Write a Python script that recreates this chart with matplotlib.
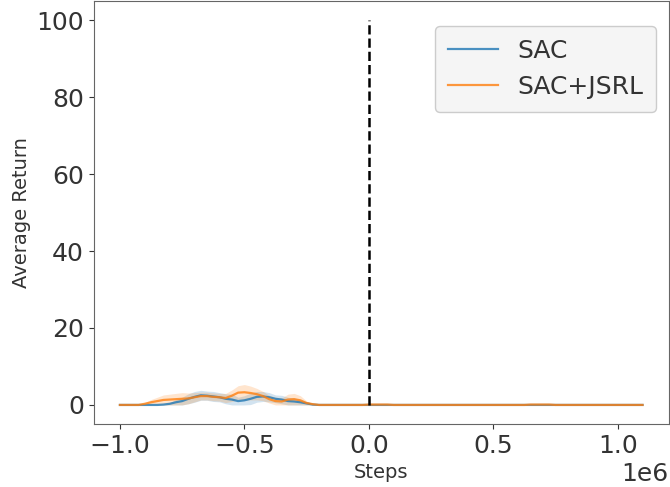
import numpy as np
import matplotlib
matplotlib.use("Agg")
import matplotlib.pyplot as plt

# steps grid (x 1e6), every 25k steps from -1.0e6 to 1.1e6
steps = np.linspace(-1.0e6, 1.1e6, 85)

sac_mean = [0, 0, 0, 0, 0, 0, 0, 0.1, 0.3, 0.7,
            1.0, 1.6, 2.1, 2.5, 2.4, 2.2, 2.0, 1.6, 1.4, 1.0,
            1.2, 1.6, 2.1, 2.2, 2.0, 1.6, 1.4, 1.0, 0.9, 0.7,
            0.4, 0.1, 0, 0, 0, 0, 0, 0, 0, 0,
            0, 0, 0, 0, 0, 0, 0, 0, 0, 0,
            0, 0, 0, 0, 0, 0, 0, 0, 0, 0,
            0, 0, 0, 0, 0, 0, 0, 0, 0, 0,
            0, 0, 0, 0, 0, 0, 0, 0, 0, 0,
            0, 0, 0, 0, 0]
sac_std = [0, 0, 0, 0, 0, 0, 0, 0.1, 0.3, 0.7,
           1.0, 1.3, 1.4, 1.3, 1.2, 1.3, 1.2, 1.3, 1.4, 1.0,
           1.2, 1.5, 1.4, 1.3, 1.2, 1.0, 1.1, 1.0, 0.9, 0.7,
           0.4, 0.1, 0, 0, 0, 0, 0, 0, 0, 0,
           0, 0, 0, 0, 0, 0, 0, 0, 0, 0,
           0, 0, 0, 0, 0, 0, 0, 0, 0, 0,
           0, 0, 0, 0, 0, 0, 0, 0, 0, 0,
           0, 0, 0, 0, 0, 0, 0, 0, 0, 0,
           0, 0, 0, 0, 0]

jsrl_mean = [0, 0, 0, 0, 0.3, 0.7, 1.0, 1.3, 1.4, 1.5,
             1.6, 1.7, 2.0, 2.3, 2.3, 2.1, 2.0, 1.8, 2.4, 3.2,
             3.3, 3.1, 2.8, 2.3, 1.5, 1.0, 0.9, 1.4, 1.5, 1.2,
             0.5, 0.2, 0, 0, 0, 0, 0, 0, 0, 0,
             0.1, 0.1, 0.1, 0.1, 0, 0, 0, 0, 0, 0,
             0, 0, 0, 0, 0, 0, 0, 0, 0, 0,
             0, 0, 0, 0, 0, 0, 0.1, 0.1, 0.1, 0.1,
             0, 0, 0, 0, 0, 0, 0, 0, 0, 0,
             0, 0, 0, 0, 0]
jsrl_std = [0, 0, 0, 0, 0.3, 0.7, 1.0, 1.3, 1.4, 1.5,
            1.6, 1.4, 1.2, 1.0, 1.0, 1.0, 1.0, 1.2, 1.5, 1.8,
            2.0, 1.8, 1.5, 1.2, 1.0, 1.0, 0.9, 1.4, 1.5, 1.2,
            0.5, 0.2, 0, 0, 0, 0, 0, 0, 0, 0,
            0.1, 0.1, 0.1, 0.1, 0, 0, 0, 0, 0, 0,
            0, 0, 0, 0, 0, 0, 0, 0, 0, 0,
            0, 0, 0, 0, 0, 0, 0.1, 0.1, 0.1, 0.1,
            0, 0, 0, 0, 0, 0, 0, 0, 0, 0,
            0, 0, 0, 0, 0]

switch_step = 0
switch_range = [0, 100]

series = [("SAC", sac_mean, sac_std, "#1f77b4"),
          ("SAC+JSRL", jsrl_mean, jsrl_std, "#ff7f0e")]

fig = plt.figure(figsize=(6.7, 4.87), dpi=100)
ax = fig.add_axes([0.140, 0.129, 0.858, 0.869])

for name, m, s, c in series:
    m = np.array(m)
    s = np.array(s)
    ax.plot(steps, m, color=c, linewidth=1.6, alpha=0.8, label=name)
    ax.fill_between(steps, m - s, m + s, color=c, alpha=0.2, linewidth=0)

ax.vlines(switch_step, switch_range[0], switch_range[1], colors="black",
          linestyles="dashed", linewidth=1.8)

ax.set_xlabel("Steps", fontsize=14, color="#333333")
ax.set_ylabel("Average Return", fontsize=14, color="#333333")
ax.tick_params(labelsize=18, colors="#333333")
ax.xaxis.get_offset_text().set_fontsize(18)
ax.xaxis.get_offset_text().set_color("#333333")
for sp in ax.spines.values():
    sp.set_color("#666666")

leg = ax.legend(fontsize=18, loc="upper right", borderpad=0.5,
                bbox_to_anchor=(1.0, 0.97))
leg.get_frame().set_facecolor("#f5f5f5")
leg.get_frame().set_alpha(1.0)
for t in leg.get_texts():
    t.set_color("#333333")

plt.savefig("out.png", dpi=100)
